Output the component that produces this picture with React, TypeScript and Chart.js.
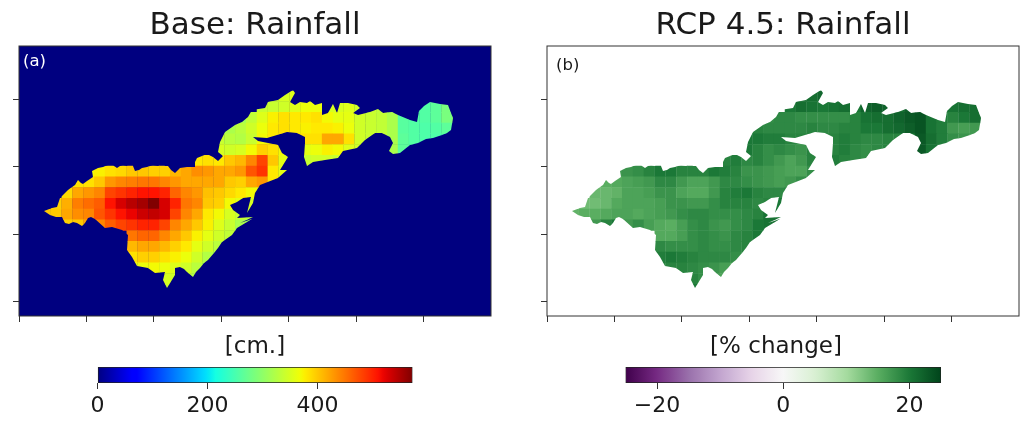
import React, { useEffect, useRef } from "react";
import { Chart, registerables } from "chart.js";

Chart.register(...registerables);

const FONT = "'DejaVu Sans', sans-serif";
const INK = "#1a1a1a";

const xTicks = [0, 67.4, 134.8, 202.2, 269.6, 337, 404.4];
const yTicks = [53, 120.5, 188, 255.5];

const gridX0 = 20.9;
const gridY0 = 44.7;
const cellW = 10.85;
const cellH = 10.75;

const rowStarts = [21, 20, 18, 17, 16, 16, 14, 4, 3, 2, 1, 0, 1, 8, 8, 8, 8, 11, 11];

const rainfallRows = [
  [345, 350, 355],
  [340, 340, 345, 355, 365, 365, 350, 350, 355, 345, 340, 335, 320, 265, 260, 258, 265, 285],
  [315, 335, 355, 375, 385, 380, 380, 385, 370, 360, 360, 345, 340, 335, 320, 262, 258, 258, 265, 285, 300],
  [320, 330, 345, 365, 380, 385, 380, 375, 380, 380, 375, 365, 345, 340, 335, 320, 262, 258, 255, 258, 265, 285],
  [340, 330, 325, 340, 370, 380, 385, 385, 385, 385, 420, 420, 385, 345, 340, 335, 320, 265, 258, 255, 255, 258],
  [350, 345, 350, 370, 395, 385, 370, 365, 360, 365, 375, 370, 355, 345, 340, 335, 320, 265, 260, 258],
  [380, 385, 380, 400, 410, 440, 480, 400, 360, 345, 340, 345, 345, 340],
  [370, 375, 385, 390, 400, 400, 395, 395, 410, 420, 435, 430, 420, 420, 430, 470, 490, 380, 360, 340, 320],
  [385, 385, 400, 430, 440, 445, 450, 450, 440, 430, 420, 420, 420, 420, 400, 395, 420, 430, 380],
  [390, 420, 430, 440, 480, 490, 500, 510, 510, 500, 460, 440, 430, 405, 400, 390, 380, 370, 360],
  [395, 415, 445, 455, 465, 510, 530, 545, 555, 575, 530, 500, 450, 440, 400, 395, 370, 360, 350, 340],
  [400, 400, 420, 435, 440, 470, 490, 510, 520, 535, 540, 530, 480, 440, 420, 380, 370, 350, 340, 330, 320],
  [395, 395, 400, 420, 440, 465, 480, 490, 500, 500, 480, 440, 420, 400, 375, 355, 340, 320, 310],
  [450, 460, 460, 440, 420, 400, 375, 360, 345, 335, 320],
  [410, 420, 420, 410, 395, 380, 360, 345, 330, 320],
  [385, 395, 395, 385, 375, 365, 345, 325, 315],
  [365, 365, 370, 365, 355, 345, 330, 320],
  [350, 345, 335, 325],
  [345, 340],
];

const changeRows = [
  [21, 21, 21.5],
  [20, 21, 20.5, 20, 20.5, 21, 20, 22, 22.5, 22, 21, 22.5, 23, 23, 21, 20.5, 21, 21],
  [18, 18.5, 18.5, 18, 18, 18, 18, 18, 19, 20.5, 21, 21, 22, 23, 23.5, 20.5, 19.5, 19, 20, 21, 21],
  [19, 18.5, 18.5, 18.5, 18.5, 19, 18.5, 18.5, 19, 19, 20, 20, 21, 21.5, 22.5, 23.5, 20.5, 19.5, 17, 16.5, 17, 18],
  [20, 20, 19.5, 19.5, 19, 19, 19, 19, 19, 19.5, 19, 18.5, 18.5, 19, 19, 20, 23, 21, 19.5, 18, 17.5, 17],
  [20, 19, 18, 18.5, 18, 17.5, 19, 19, 19, 19.5, 18.5, 18, 18.5, 19, 20, 22, 23, 20.5, 20, 19],
  [19, 19.5, 18.5, 19, 18, 17, 16, 17, 19, 19.5, 19.5, 19, 18.5, 18],
  [17, 17.5, 18, 19, 20, 20, 19, 19, 19, 20, 19.5, 19, 17.5, 17.5, 17, 16.5, 16, 16, 18, 19, 19],
  [15, 15.5, 16, 16.5, 17, 18.5, 18.5, 17, 16, 16, 17, 18.5, 18.5, 18, 17.5, 17, 16.5, 17, 18],
  [14, 14, 14.5, 16, 16, 16.5, 17.5, 17.5, 16, 15.5, 15.5, 17, 19, 19.5, 20, 19, 18.5, 18.5, 19],
  [13.5, 13.5, 14, 15.5, 16, 16, 16, 16.5, 17.5, 17.5, 17, 17, 18, 19, 19, 19, 18.5, 19, 20, 20],
  [14.5, 15, 15, 15.5, 16, 16, 15.5, 16, 16.5, 17, 18, 18.5, 18.5, 18, 18, 18, 18.5, 19, 20.5, 20.5, 21],
  [16, 17, 19, 20, 17, 18, 16.5, 15.5, 15, 16.5, 18, 18.5, 17.5, 17, 18, 18.5, 20, 20.5, 21],
  [15.5, 15.5, 16.5, 18, 18.5, 18, 17.5, 18.5, 19, 20, 21],
  [18.5, 18, 18, 18, 18.5, 18, 18, 18.5, 19, 19.5],
  [19.5, 20, 19.5, 19, 18.5, 18.5, 18.5, 18, 18],
  [19, 19, 19, 18.5, 18, 17.5, 16.5, 16],
  [19, 18, 17, 16],
  [20, 19],
];

const coastX = [
  25, 33, 38, 41, 45, 49, 53, 56, 59, 62, 64, 68, 74, 73, 79, 84, 89, 93, 95, 98, 101, 104, 108, 110, 113, 114, 116,
  120, 123, 128, 134, 139, 144, 146, 149, 152, 156, 161, 168, 176, 176, 178, 183, 188, 194, 199, 204, 199, 201, 206,
  216, 223, 229, 233, 246, 249, 259, 266, 274, 276, 271, 276, 281, 288, 291, 296, 303, 303, 309, 314, 318, 321, 329,
  338, 341, 334, 339, 351, 359, 364, 373, 379, 391, 398, 400, 405, 411, 421, 429, 432, 434, 432, 428, 423, 414, 407,
  399, 391, 386, 381, 374, 370, 374, 371, 363, 356, 346, 338, 324, 319, 306, 294, 288, 285, 286, 286, 278, 268, 258,
  248, 234, 239, 249, 259, 263, 269, 261, 268, 259, 241, 236, 234, 228, 230, 232, 224, 218, 211, 214, 221, 218, 234,
  221, 233, 218, 213, 203, 199, 195, 189, 185, 181, 177, 174, 168, 165, 161, 156, 156, 148, 144, 146, 136, 129, 118,
  113, 108, 109, 103, 93, 86, 76, 72, 69, 66, 63, 58, 54, 50, 46, 43, 37, 31,
];
const coastY = [
  165, 162, 161, 152, 148, 144, 141, 139, 134, 137, 138, 135, 131, 125, 122, 121, 119, 117, 120, 122, 120, 119, 120,
  116, 115, 120, 125, 124, 122, 121, 119, 120, 116, 120, 120, 124, 127, 122, 121, 121, 116, 112, 110, 108, 111, 115,
  110, 106, 96, 86, 79, 76, 71, 64, 62, 56, 54, 49, 44, 47, 56, 59, 56, 57, 55, 59, 57, 69, 67, 58, 67, 57, 57, 59,
  62, 67, 69, 66, 63, 67, 66, 69, 74, 76, 65, 60, 56, 58, 59, 67, 72, 84, 87, 89, 92, 93, 97, 99, 103, 107, 108, 105,
  97, 91, 87, 87, 94, 102, 105, 112, 114, 116, 120, 111, 97, 91, 87, 86, 89, 92, 91, 95, 97, 99, 107, 111, 124, 124,
  132, 139, 147, 157, 167, 159, 151, 152, 156, 159, 164, 169, 172, 171, 177, 173, 182, 189, 196, 202, 207, 214, 217,
  222, 226, 231, 226, 223, 221, 222, 229, 242, 234, 226, 227, 222, 220, 211, 204, 189, 184, 181, 182, 173, 171, 172,
  177, 180, 177, 176, 178, 177, 171, 171, 169,
];

const jetR = [[0, 0], [0.35, 0], [0.66, 1], [0.89, 1], [1, 0.5]];
const jetG = [[0, 0], [0.125, 0], [0.375, 1], [0.64, 1], [0.91, 0], [1, 0]];
const jetB = [[0, 0.5], [0.11, 1], [0.34, 1], [0.65, 0], [1, 0]];
const prgnStops = ["#40004b", "#762a83", "#9970ab", "#c2a5cf", "#e7d4e8", "#f7f7f7", "#d9f0d3", "#a6dba0", "#5aae61", "#1b7837", "#00441b"];

const RAIN_MAX = 573;
const CHANGE_MAX = 25;

function channel(stops: number[][], t: number) {
  for (let i = 1; i < stops.length; i++) {
    if (t <= stops[i][0]) {
      const [a, va] = stops[i - 1];
      const [b, vb] = stops[i];
      return va + ((t - a) / (b - a)) * (vb - va);
    }
  }
  return stops[stops.length - 1][1];
}
function jet(t: number) {
  const k = Math.min(1, Math.max(0, t));
  return `rgb(${Math.round(channel(jetR, k) * 255)},${Math.round(channel(jetG, k) * 255)},${Math.round(channel(jetB, k) * 255)})`;
}
function prgn(t: number) {
  const k = Math.min(1, Math.max(0, t)) * (prgnStops.length - 1);
  const i = Math.min(prgnStops.length - 2, Math.floor(k));
  const f = k - i;
  const hex = (s: string, o: number) => parseInt(s.slice(o, o + 2), 16);
  const mix = (o: number) => Math.round(hex(prgnStops[i], o) * (1 - f) + hex(prgnStops[i + 1], o) * f);
  return `rgb(${mix(1)},${mix(3)},${mix(5)})`;
}

function cells(rows: number[][]) {
  const out: { x: number; y: number; v: number }[] = [];
  rows.forEach((row, r) =>
    row.forEach((v, i) => out.push({ x: gridX0 + (rowStarts[r] + i + 0.5) * cellW, y: gridY0 + (r + 0.5) * cellH, v }))
  );
  return out;
}

function panelConfig(title: string, tag: string, tagColor: string, tagX: number, tagY: number, rows: number[][], color: (v: number) => string, bg: string) {
  const panelPlugin = {
    id: "panel",
    beforeDatasetsDraw(chart: any) {
      const { ctx, chartArea: a, scales } = chart;
      ctx.save();
      ctx.fillStyle = bg;
      ctx.fillRect(a.left, a.top, a.right - a.left, a.bottom - a.top);
      ctx.beginPath();
      coastX.forEach((x, i) => {
        const px = scales.x.getPixelForValue(x);
        const py = scales.y.getPixelForValue(coastY[i]);
        if (i === 0) ctx.moveTo(px, py);
        else ctx.lineTo(px, py);
      });
      ctx.closePath();
      ctx.clip();
    },
    afterDatasetsDraw(chart: any) {
      const { ctx, chartArea: a, scales } = chart;
      ctx.restore();
      ctx.save();
      ctx.strokeStyle = "#333";
      ctx.lineWidth = 1;
      ctx.strokeRect(a.left, a.top, a.right - a.left, a.bottom - a.top);
      ctx.fillStyle = tagColor;
      ctx.font = `16.5px ${FONT}`;
      ctx.textBaseline = "middle";
      ctx.fillText(tag, scales.x.getPixelForValue(tagX), scales.y.getPixelForValue(tagY));
      ctx.restore();
    },
  };
  return {
    type: "scatter",
    data: {
      datasets: [
        {
          data: cells(rows),
          pointStyle: "rect",
          pointRadius: 7.9,
          pointBorderWidth: 0,
          pointBackgroundColor: (c: any) => color(c.raw ? c.raw.v : 0),
          showLine: false,
        },
      ],
    },
    options: {
      animation: false,
      responsive: false,
      events: [],
      layout: { padding: { left: 19, right: 22, top: 0, bottom: 8 } },
      plugins: {
        legend: { display: false },
        tooltip: { enabled: false },
        title: { display: true, text: title, color: INK, font: { family: FONT, size: 31, weight: "normal" }, padding: { top: 7.5, bottom: 1.3 } },
      },
      scales: {
        x: {
          type: "linear",
          min: 0,
          max: 472,
          afterBuildTicks: (s: any) => { s.ticks = xTicks.map((value) => ({ value })); },
          afterFit: (s: any) => { s.height = 6; },
          ticks: { callback: () => "", padding: 0 },
          grid: { drawOnChartArea: false, tickLength: 6, color: "#333" },
          border: { display: false },
        },
        y: {
          type: "linear",
          reverse: true,
          min: 0,
          max: 270,
          afterBuildTicks: (s: any) => { s.ticks = yTicks.map((value) => ({ value })); },
          afterFit: (s: any) => { s.width = 0; },
          ticks: { callback: () => "", padding: 0 },
          grid: { drawOnChartArea: false, tickLength: 6, color: "#333" },
          border: { display: false },
        },
      },
    },
    plugins: [panelPlugin],
  };
}

function barConfig(label: string, min: number, max: number, tickValues: number[], color: (t: number) => string, padLeft: number, padRight: number, offsetY: number) {
  return {
    type: "bar",
    data: {
      labels: [""],
      datasets: [
        {
          data: [[min, max]],
          barPercentage: 1,
          categoryPercentage: 1,
          borderWidth: 1,
          borderSkipped: false,
          borderColor: "#222",
          backgroundColor: (c: any) => {
            const a = c.chart.chartArea;
            if (!a) return color(0.5);
            const g = c.chart.ctx.createLinearGradient(a.left, 0, a.right, 0);
            for (let i = 0; i <= 64; i++) g.addColorStop(i / 64, color(i / 64));
            return g;
          },
        },
      ],
    },
    options: {
      animation: false,
      responsive: false,
      events: [],
      indexAxis: "y",
      layout: { padding: { left: padLeft, right: padRight, top: 0, bottom: 0 } },
      plugins: {
        legend: { display: false },
        tooltip: { enabled: false },
        title: { display: true, text: label, color: INK, font: { family: FONT, size: 23, weight: "normal" }, padding: { top: 3.4, bottom: 6 } },
      },
      scales: {
        x: {
          type: "linear",
          min,
          max,
          afterBuildTicks: (s: any) => { s.ticks = tickValues.map((value) => ({ value })); },
          afterFit: (s: any) => { s.height = 43; },
          ticks: { color: INK, font: { family: FONT, size: 22 }, padding: 4, maxRotation: 0, callback: (v: any) => String(v).replace("-", "\u2212") },
          grid: { drawOnChartArea: false, tickLength: 6, color: "#333" },
          border: { display: false },
        },
        y: {
          display: offsetY > 0,
          afterFit: (s: any) => { s.width = offsetY; },
          ticks: { display: false },
          grid: { display: false },
          border: { display: false },
        },
      },
    },
  };
}

function Piece({ left, top, width, height, make }: { left: number; top: number; width: number; height: number; make: () => any }) {
  const ref = useRef<HTMLCanvasElement>(null);
  useEffect(() => {
    const chart = new Chart(ref.current as HTMLCanvasElement, make());
    return () => chart.destroy();
  }, []);
  return <canvas ref={ref} width={width} height={height} style={{ position: "absolute", left, top, width, height }} />;
}

export default function App() {
  return (
    <div style={{ position: "fixed", left: 0, top: 0, width: 1026, height: 426, overflow: "hidden", background: "#fff", filter: "blur(0.6px)" }}>
      <Piece left={0} top={0} width={513} height={330}
        make={() => panelConfig("Base: Rainfall", "(a)", "#fff", 4, 15.5, rainfallRows, (v) => jet(v / RAIN_MAX), jet(0))} />
      <Piece left={528} top={0} width={513} height={330}
        make={() => panelConfig("RCP 4.5: Rainfall", "(b)", INK, 9, 20, changeRows, (v) => prgn((v + CHANGE_MAX) / (2 * CHANGE_MAX)), "#fff")} />
      <Piece left={56} top={330} width={400} height={96}
        make={() => barConfig("[cm.]", 0, RAIN_MAX, [0, 200, 400], jet, 41.5, 43.5, 0)} />
      <Piece left={576} top={330} width={400} height={96}
        make={() => barConfig("[% change]", -CHANGE_MAX, CHANGE_MAX, [-20, 0, 20], prgn, 35, 35, 14.5)} />
    </div>
  );
}
